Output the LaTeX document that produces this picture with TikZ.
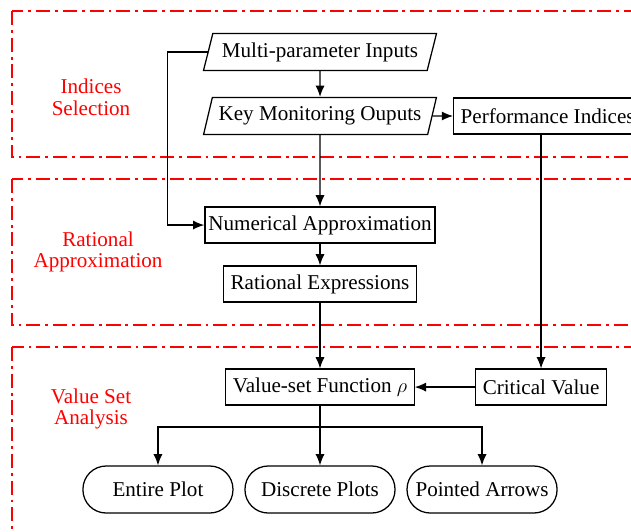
\documentclass[tikz,border=0pt]{standalone}
\usepackage{fontspec}
\setmainfont{Liberation Serif}
\usetikzlibrary{shapes,arrows.meta,positioning,calc}

\begin{document}
\begin{tikzpicture}[x=0.025cm, y=-0.025cm, node distance=2cm, font=\fontsize{15}{15.5}\selectfont]
  \tikzstyle{block} = [rectangle, draw, line width=0.9pt, minimum height=0.9cm, inner xsep=5pt, text centered]
  \tikzstyle{io} = [trapezium, trapezium left angle=66, trapezium right angle=114, trapezium stretches=true, draw, line width=0.9pt, inner sep=0pt, minimum width=5.825cm, minimum height=0.925cm]
  \tikzstyle{term} = [rectangle, draw, line width=0.9pt, rounded corners=0.58cm, minimum width=3.75cm, minimum height=1.175cm]
  \tikzstyle{arrow} = [line width=0.9pt, ->, >={Latex[length=8pt,width=6.5pt]}]
  \tikzstyle{stage} = [red, line width=1pt, dash pattern=on 10pt off 3.5pt on 2pt off 3.5pt]
  \tikzstyle{stagetext} = [text=red, align=center]

  \useasboundingbox (0,0) rectangle (631,532);
  \clip (0,0) rectangle (631,532);

  % stages
  \draw [stage] (12,11) rectangle (700,157);
  \draw [stage] (12,179) rectangle (700,325);
  \draw [stage] (12,347) rectangle (700,600);
  \node [stagetext] (selname) at (91,97) {Indices\\Selection};
  \node [stagetext] (appname) at (98,252) {Rational\\Approximation};
  \node [stagetext] (valname) at (91,409) {Value Set\\Analysis};

  % main column
  \node [io] (inp) at (320,52) {Multi-parameter Inputs};
  \node [io, below of=inp, node distance=1.6cm] (kmo) {Key Monitoring Ouputs};
  \node [block, right of=kmo, node distance=5.69cm] (pi) {Performance Indices};
  \node [block, below of=kmo, node distance=2.725cm, inner xsep=2.5pt] (num) {Numerical Approximation};
  \node [block, below of=num, node distance=1.475cm] (rat) {Rational Expressions};
  \node [block, below of=rat, node distance=2.575cm] (vs) {Value-set Function $\rho$};
  \node [block, right of=vs, node distance=5.525cm] (cv) {Critical Value};
  \node [term, below of=vs, node distance=2.56cm] (dp) {Discrete Plots};
  \node [term, left of=dp, node distance=4.05cm] (ep) {Entire Plot};
  \node [term, right of=dp, node distance=4.05cm] (pa) {Pointed Arrows};
  \coordinate [below of=vs, node distance=1.0cm] (split);

  \draw [arrow] (inp) -- (kmo);
  \draw [arrow] (kmo) -- (pi);
  \draw [arrow] (kmo) -- (num);
  \draw [arrow] (inp.west) -- ++(-40,0) |- (num.west);
  \draw [arrow] (num) -- (rat);
  \draw [arrow] (rat) -- (vs);
  \draw [arrow] (cv.north |- pi.south) -- (cv.north);
  \draw [arrow] (cv) -- (vs);
  \draw [arrow] (vs) -- (dp);
  \draw [arrow] (split) -| (ep.north);
  \draw [arrow] (split) -| (pa.north);
\end{tikzpicture}
\end{document}
